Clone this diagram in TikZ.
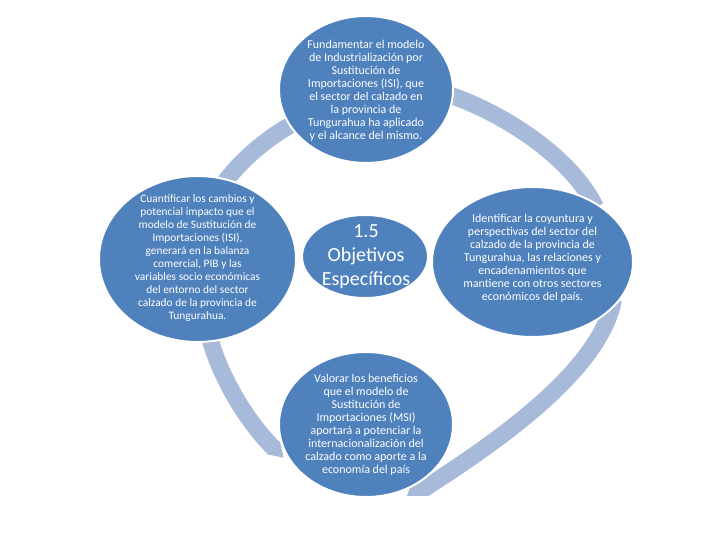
\documentclass[tikz,border=0pt]{standalone}
\usepackage{fontspec}
\setmainfont{Carlito}
\usetikzlibrary{shapes.geometric,arrows.meta,calc}
\pgfdeclarelayer{background}
\pgfsetlayers{background,main}
\definecolor{bubblefill}{RGB}{79,129,189}
\definecolor{ringcol}{RGB}{168,186,218}
\begin{document}
\begin{tikzpicture}[x=1pt,y=-1pt,
  bubble/.style={ellipse, fill=bubblefill, draw=white, line width=2pt, inner sep=0pt},
  txt/.style={text=white, align=center, inner sep=0pt, font=\fontsize{12}{13}\selectfont},
  smalltxt/.style={txt, font=\fontsize{11.4}{13}\selectfont},
  bigtxt/.style={text=white, align=center, inner sep=0pt, font=\fontsize{20}{24}\selectfont},
  band/.style={draw=ringcol, line width=17pt}]
\useasboundingbox (0,0) rectangle (720,540);
% ellipses
\node[bubble, minimum width=174pt, minimum height=147pt] (top) at (366,89.5) {};
\node[bubble, minimum width=197pt, minimum height=166pt] (left) at (197.5,259) {};
\node[bubble, minimum width=201pt, minimum height=150pt] (right) at (532.5,262) {};
\node[bubble, minimum width=174pt, minimum height=145pt] (bottom) at (366,424.5) {};
\node[bubble, minimum width=126pt, minimum height=83pt] (center) at (365,256.5) {};
% texts
\node[txt] (toptext) at (366,91) {Fundamentar el modelo\\de Industrialización por\\Sustitución de\\Importaciones (ISI), que\\el sector del calzado en\\la provincia de\\Tungurahua ha aplicado\\y el alcance del mismo.};
\node[smalltxt] (lefttext) at (197.5,258) {Cuantificar los cambios y\\potencial impacto que el\\modelo de Sustitución de\\Importaciones (ISI),\\generará en la balanza\\comercial, PIB y las\\variables socio económicas\\del entorno del sector\\calzado de la provincia de\\Tungurahua.};
\node[txt] (righttext) at (532.5,258) {Identificar la coyuntura y\\perspectivas del sector del\\calzado de la provincia de\\Tungurahua, las relaciones y\\encadenamientos que\\mantiene con otros sectores\\económicos del país.};
\node[txt] (bottomtext) at (366,425) {Valorar los beneficios\\que el modelo de\\Sustitución de\\Importaciones (MSI)\\aportará a potenciar la\\internacionalización del\\calzado como aporte a la\\economía del país};
\node[bigtxt] (centertext) at (366,257) {1.5\\Objetivos\\Específicos};
% ring connectors
\begin{pgfonlayer}{background}
\begin{scope}
\clip (0,0) rectangle (720,495);
\draw[band] ($(top)!0.85!(top.-2)$) .. controls (500,110) and (572,157) .. ($(right)!0.95!(right.41)$);
\draw[band, -{Triangle[length=22pt,width=32pt]}] ($(right)!0.94!(right.-25)$) .. controls (600,370) and (500,440) .. ($(bottom)!1.13!(bottom.-63)$);
\draw[band, -{Triangle[length=14pt,width=17pt]}] ($(left)!0.76!(left.-82)$) .. controls (212,360) and (240,415) .. ($(bottom)!1.04!(bottom.-158)$);
\draw[band] ($(left)!0.88!(left.72)$) .. controls (240,160) and (270,135) .. ($(top)!0.87!(top.-155)$);
\end{scope}
\end{pgfonlayer}
\end{tikzpicture}
\end{document}
